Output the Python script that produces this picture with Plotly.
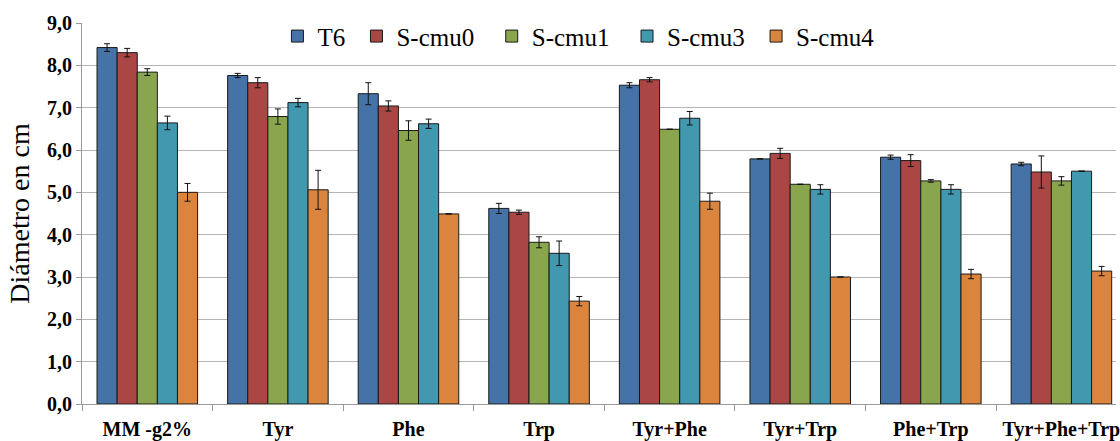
import plotly.graph_objects as go

categories = ["MM -g2%", "Tyr", "Phe", "Trp", "Tyr+Phe", "Tyr+Trp", "Phe+Trp", "Tyr+Phe+Trp"]
series_names = ["T6", "S-cmu0", "S-cmu1", "S-cmu3", "S-cmu4"]

t6 = [8.42, 7.76, 7.33, 4.62, 7.53, 5.79, 5.83, 5.67]
s_cmu0 = [8.30, 7.59, 7.04, 4.53, 7.66, 5.92, 5.75, 5.48]
s_cmu1 = [7.84, 6.79, 6.46, 3.82, 6.49, 5.19, 5.27, 5.27]
s_cmu3 = [6.64, 7.12, 6.62, 3.56, 6.75, 5.07, 5.07, 5.50]
s_cmu4 = [5.00, 5.06, 4.49, 2.43, 4.79, 3.00, 3.07, 3.14]

err_t6 = [0.09, 0.05, 0.26, 0.12, 0.06, None, 0.05, 0.04]
err_s_cmu0 = [0.10, 0.12, 0.12, 0.05, 0.05, 0.12, 0.14, 0.38]
err_s_cmu1 = [0.08, 0.18, 0.23, 0.13, None, None, 0.03, 0.10]
err_s_cmu3 = [0.16, 0.10, 0.11, 0.29, 0.16, 0.11, 0.11, None]
err_s_cmu4 = [0.21, 0.46, None, 0.11, 0.19, None, 0.11, 0.11]

y_ticks = [0, 1, 2, 3, 4, 5, 6, 7, 8, 9]
y_tick_labels = ["0,0", "1,0", "2,0", "3,0", "4,0", "5,0", "6,0", "7,0", "8,0", "9,0"]

values = [t6, s_cmu0, s_cmu1, s_cmu3, s_cmu4]
errors = [err_t6, err_s_cmu0, err_s_cmu1, err_s_cmu3, err_s_cmu4]
colors = ["#4572A7", "#AA4643", "#89A54E", "#4198AF", "#DB843D"]
legend_pad = ["\u00a0", "\u00a0\u00a0", "\u00a0\u00a0", "\u00a0", ""]

FONT = "Liberation Serif"

fig = go.Figure()
for name, vals, errs, col, pad in zip(series_names, values, errors, colors, legend_pad):
    fig.add_trace(go.Bar(
        x=categories, y=vals, name=name + pad,
        marker=dict(color=col, line=dict(color="#1a1a1a", width=1)),
        error_y=dict(type="data", array=errs, visible=True, color="#111111",
                     thickness=1, width=3),
    ))

fig.update_layout(
    width=1120, height=441,
    margin=dict(l=82, r=0, t=23, b=37),
    paper_bgcolor="white", plot_bgcolor="white",
    barmode="group", bargap=0.23, bargroupgap=0,
    font=dict(family=FONT, color="black"),
    showlegend=True,
    legend=dict(orientation="h", x=0.189, xanchor="left", y=0.965, yanchor="middle",
                font=dict(family=FONT, size=25, color="black"),
                bgcolor="rgba(255,255,255,0)", traceorder="normal",
                itemclick=False),
)

fig.update_xaxes(
    type="category", range=[-0.5, 7.418], tickson="boundaries",
    ticks="outside", ticklen=6, tickcolor="#999999",
    showline=True, linecolor="#999999", linewidth=1,
    showgrid=False,
    tickfont=dict(family=FONT, size=20, color="black", weight="bold"),
    ticklabelstandoff=7,
)

fig.update_yaxes(
    range=[0, 9], tickvals=y_ticks, ticktext=y_tick_labels,
    ticks="outside", ticklen=5, tickcolor="#999999",
    showline=True, linecolor="#999999", linewidth=1,
    showgrid=True, gridcolor="#b5b5b5", gridwidth=1,
    zeroline=False,
    tickfont=dict(family=FONT, size=20, color="black", weight="bold"),
    title=dict(text="Diámetro en cm", font=dict(family=FONT, size=28, color="black"), standoff=9),
)

fig.write_html("out.html", config={"displayModeBar": False},
               post_script="document.body.style.margin='0';document.body.style.overflow='hidden';")
